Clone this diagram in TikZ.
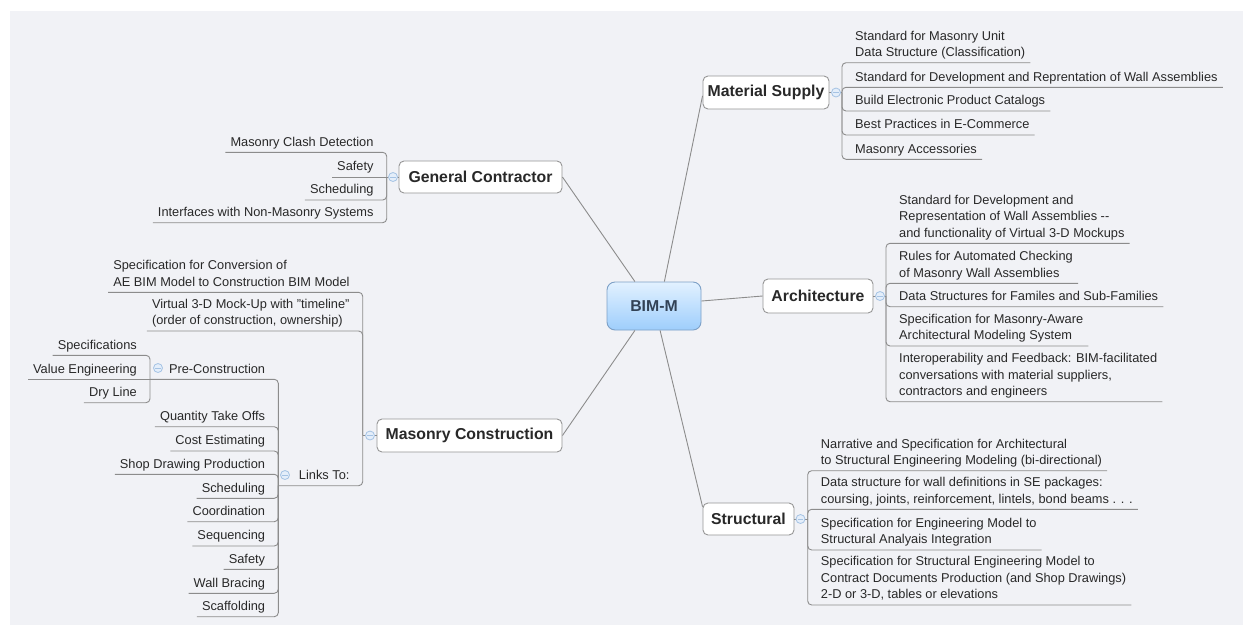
\documentclass[tikz,border=0pt]{standalone}
\usepackage{fontspec}
\setmainfont{Liberation Sans}
\definecolor{bgc}{RGB}{241,242,246}
\definecolor{linec}{RGB}{140,140,140}
\definecolor{boxc}{RGB}{150,150,150}
\definecolor{textc}{RGB}{40,40,40}
\definecolor{markc}{RGB}{165,195,228}
\definecolor{markf}{RGB}{228,238,250}
\definecolor{bimtop}{RGB}{226,241,255}
\definecolor{bimbot}{RGB}{158,206,252}
\definecolor{bimborder}{RGB}{125,160,198}
\definecolor{bimtext}{RGB}{50,66,86}
\tikzset{
  topic/.style={draw=boxc, fill=white, rounded corners=5pt, line width=0.9pt,
    font=\fontsize{15.8}{18}\selectfont\bfseries, text=textc, inner sep=0pt},
  bimstyle/.style={draw=bimborder, top color=bimtop, bottom color=bimbot, rounded corners=8pt,
    line width=0.9pt, font=\fontsize{15.8}{18}\selectfont\bfseries, text=bimtext, inner sep=0pt},
  item/.style={font=\fontsize{12.8}{16.5}\selectfont, text=textc, align=left,
    inner xsep=5pt, inner ysep=0pt, execute at end node={\rule[-6pt]{0pt}{6pt}}},
  ritem/.style={item, anchor=south west},
  litem/.style={item, anchor=south east},
  conn/.style={draw=linec, line width=0.9pt},
  branch/.style={draw=linec, line width=0.9pt, rounded corners=4pt},
  marker/.style={circle, draw=markc, fill=markf, minimum size=9pt, inner sep=0pt, line width=0.8pt,
    path picture={\draw[markc, line width=0.9pt] ([xshift=-2.6pt]path picture bounding box.center) -- ([xshift=2.6pt]path picture bounding box.center);}}
}
\begin{document}
\begin{tikzpicture}[x=1pt,y=1pt]
\useasboundingbox (0,0) rectangle (1243,-625);
\fill[white] (0,0) rectangle (1243,-625);
\fill[bgc] (10,-11) rectangle (1243,-625);

% central and main topics
\node[bimstyle, minimum width=94pt, minimum height=48pt] (bim) at (654,-306) {BIM-M};
\node[topic, minimum width=163pt, minimum height=32pt] (gc) at (480.5,-177) {General Contractor};
\node[topic, minimum width=126pt, minimum height=33pt] (ms) at (766,-92.5) {Material Supply};
\node[topic, minimum width=110pt, minimum height=34pt] (arch) at (818,-296) {Architecture};
\node[topic, minimum width=91pt, minimum height=32pt] (st) at (748.5,-519) {Structural};
\node[topic, minimum width=185pt, minimum height=33pt] (mc) at (469.5,-435.5) {Masonry Construction};

\draw[conn] (gc.east) -- (bim.128);
\draw[conn] (ms.183) -- (bim.67);
\draw[conn] (arch.west) -- (bim.6);
\draw[conn] (st.165) -- (bim.284);
\draw[conn] (mc.east) -- (bim.232);

% ---------- Material Supply
\coordinate (msv) at (842,-92.5);
\node[ritem] (ms1) at (850,-62.7) {Standard for Masonry Unit\\Data Structure (Classification)};
\node[ritem] (ms2) at (850,-87.3) {Standard for Development and Reprentation of Wall Assemblies};
\node[ritem] (ms3) at (850,-111) {Build Electronic Product Catalogs};
\node[ritem] (ms4) at (850,-135) {Best Practices in E-Commerce};
\node[ritem] (ms5) at (850,-159.3) {Masonry Accessories};
\draw[conn] (ms.east) -- (msv);
\foreach \n in {ms1,ms2,ms3,ms4,ms5} \draw[branch] (msv) -- (msv |- \n.south) -- (\n.south east);
\node[marker] (msm) at (836,-92.5) {};

% ---------- Architecture
\coordinate (arv) at (886,-296);
\node[ritem] (a1) at (894,-243.3) {Standard for Development and\\Representation of Wall Assemblies -{}-\\and functionality of Virtual 3-D Mockups};
\node[ritem] (a2) at (894,-283.3) {Rules for Automated Checking\\of Masonry Wall Assemblies};
\node[ritem] (a3) at (894,-306.7) {Data Structures for Familes and Sub-Families};
\node[ritem] (a4) at (894,-346) {Specification for Masonry-Aware\\Architectural Modeling System};
\node[ritem] (a5) at (894,-401.7) {Interoperability and Feedback: BIM-facilitated\\conversations with material suppliers,\\contractors and engineers};
\draw[conn] (arch.east) -- (arv);
\foreach \n in {a1,a2,a3,a4,a5} \draw[branch] (arv) -- (arv |- \n.south) -- (\n.south east);
\node[marker] (arm) at (880,-296) {};

% ---------- Structural
\coordinate (stv) at (807.7,-519);
\node[ritem] (s1) at (815.7,-470.7) {Narrative and Specification for Architectural\\to Structural Engineering Modeling (bi-directional)};
\node[ritem] (s2) at (815.7,-509.3) {Data structure for wall definitions in SE packages:\\coursing, joints, reinforcement, lintels, bond beams . . .};
\node[ritem] (s3) at (815.7,-550) {Specification for Engineering Model to\\Structural Analyais Integration};
\node[ritem] (s4) at (815.7,-605) {Specification for Structural Engineering Model to\\Contract Documents Production (and Shop Drawings)\\2-D or 3-D, tables or elevations};
\draw[conn] (st.east) -- (stv);
\foreach \n in {s1,s2,s3,s4} \draw[branch] (stv) -- (stv |- \n.south) -- (\n.south east);
\node[marker] (stm) at (800.5,-519) {};

% ---------- General Contractor
\coordinate (gcv) at (386.7,-177);
\node[litem] (g1) at (378.7,-152.3) {Masonry Clash Detection};
\node[litem] (g2) at (378.7,-177) {Safety};
\node[litem] (g3) at (378.7,-200) {Scheduling};
\node[litem] (g4) at (378.7,-222.7) {Interfaces with Non-Masonry Systems};
\draw[conn] (gc.west) -- (gcv);
\foreach \n in {g1,g3,g4} \draw[branch] (gcv) -- (gcv |- \n.south) -- (\n.south west);
\draw[branch] (gcv) -- (g2.south west);
\node[marker] (gcm) at (393,-177) {};

% ---------- Masonry Construction
\coordinate (mcv) at (362.7,-435.5);
\node[litem] (m1) at (354.7,-292.3) {Specification for Conversion of\\AE BIM Model to Construction BIM Model};
\node[litem] (m2) at (354.7,-331) {Virtual 3-D Mock-Up with "timeline"\\(order of construction, ownership)};
\node[litem] (lt) at (354.7,-485.7) {Links To:};
\coordinate (ltv) at (278.3,-485.7);
\draw[conn] (mc.west) -- (mcv);
\foreach \n in {m1,m2} \draw[branch] (mcv) -- (mcv |- \n.south) -- (\n.south west);
\draw[branch] (mcv) -- (mcv |- lt.south) -- (ltv);
\node[marker] (mcm) at (370,-435.5) {};

% ---------- Links To
\coordinate (pcv) at (150,-379.3);
\node[litem] (pc) at (270.3,-379.3) {Pre-Construction};
\node[litem] (l1) at (270.3,-426.7) {Quantity Take Offs};
\node[litem] (l2) at (270.3,-451) {Cost Estimating};
\node[litem] (l3) at (270.3,-474.3) {Shop Drawing Production};
\node[litem] (l4) at (270.3,-498.3) {Scheduling};
\node[litem] (l5) at (270.3,-521.7) {Coordination};
\node[litem] (l6) at (270.3,-546) {Sequencing};
\node[litem] (l7) at (270.3,-569.3) {Safety};
\node[litem] (l8) at (270.3,-593.3) {Wall Bracing};
\node[litem] (l9) at (270.3,-616.7) {Scaffolding};
\draw[branch] (ltv) -- (ltv |- pc.south) -- (pcv);
\foreach \n in {l1,l2,l3,l4,l5,l6,l7,l8,l9} \draw[branch] (ltv) -- (ltv |- \n.south) -- (\n.south west);
\node[marker] (ltm) at (285,-475) {};

% ---------- Pre-Construction
\node[litem] (p1) at (142,-355.3) {Specifications};
\node[litem] (p2) at (142,-379.3) {Value Engineering};
\node[litem] (p3) at (142,-402.7) {Dry Line};
\foreach \n in {p1,p3} \draw[branch] (pcv) -- (pcv |- \n.south) -- (\n.south west);
\draw[branch] (pcv) -- (p2.south west);
\node[marker] (pcm) at (158,-368) {};
\end{tikzpicture}
\end{document}
